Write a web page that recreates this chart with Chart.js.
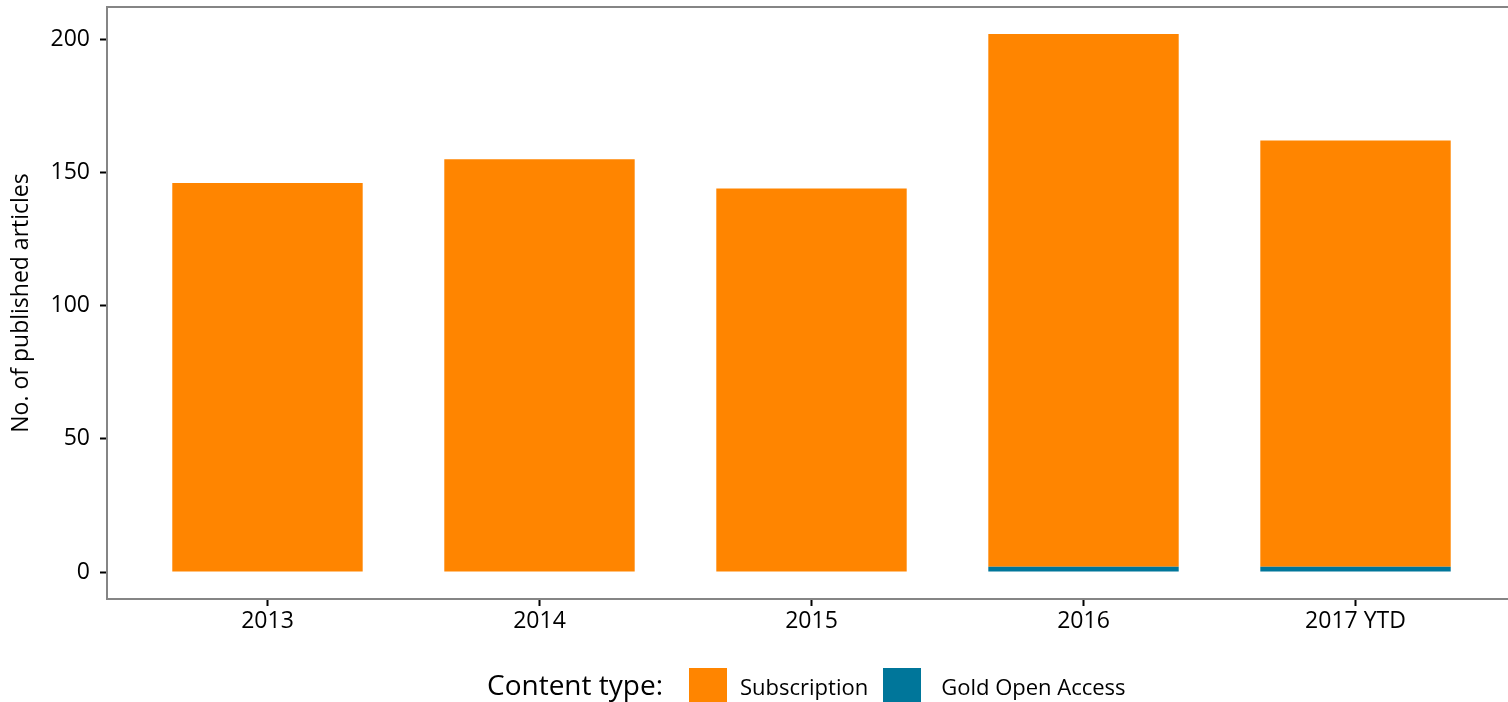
<!DOCTYPE html>
<html>
<head>
<meta charset="utf-8">
<script src="https://cdn.jsdelivr.net/npm/chart.js@4.4.1/dist/chart.umd.min.js"></script>
<style>
    html, body { margin: 0; padding: 0; background: #fff; overflow: hidden; }
    #wrap { position: relative; width: 1520px; height: 702px; }
    #legend {
        position: absolute; left: 487px; top: 662px;
        display: flex; align-items: flex-start;
        font-family: 'Open Sans', sans-serif; color: #000;
    }
    #legend .title { font-size: 28px; line-height: 44px; margin-right: 26px; }
    #legend .box { width: 38px; height: 40px; margin-top: 6px; }
    #legend .label { font-size: 22px; line-height: 44px; margin-top: 2px; }
</style>
</head>
<body>
<div id="wrap">
    <canvas id="chart" width="1520" height="702"></canvas>
    <div id="legend"></div>
</div>
<script>
const categories = ['2013', '2014', '2015', '2016', '2017 YTD'];
const subscription = [146, 155, 144, 200, 160];
const goldOpenAccess = [0, 0, 0, 2, 2];
const yTicks = [0, 50, 100, 150, 200];

const FONT = "'Open Sans', sans-serif";
const AXIS_GREY = '#858585';

// ligne du haut du cadre (pas de bord à droite, coupé)
const topBorder = {
    id: 'topBorder',
    afterDraw(chart) {
        const { ctx, chartArea } = chart;
        ctx.save();
        ctx.strokeStyle = AXIS_GREY;
        ctx.lineWidth = 2;
        ctx.beginPath();
        ctx.moveTo(chartArea.left - 1, chartArea.top);
        ctx.lineTo(chartArea.right + 10, chartArea.top);
        ctx.stroke();
        ctx.restore();
    }
};

const toPoints = values => values.map((v, i) => ({ x: i, y: v }));

const chart = new Chart(document.getElementById('chart'), {
    type: 'bar',
    data: {
        datasets: [
            {
                label: 'Gold Open Access',
                data: toPoints(goldOpenAccess),
                backgroundColor: '#00769A',
                categoryPercentage: 1,
                barPercentage: 0.7
            },
            {
                label: 'Subscription',
                data: toPoints(subscription),
                backgroundColor: '#FF8500',
                categoryPercentage: 1,
                barPercentage: 0.7
            }
        ]
    },
    options: {
        responsive: false,
        animation: false,
        layout: { padding: { top: 7, right: 4, bottom: 63, left: 0 } },
        plugins: {
            legend: { display: false },
            tooltip: { enabled: false }
        },
        scales: {
            x: {
                type: 'linear',
                stacked: true,
                offset: false,
                min: -0.59,
                max: 4.59,
                afterBuildTicks: scale => { scale.ticks = categories.map((c, i) => ({ value: i })); },
                afterFit: scale => {
                    scale.height = 40;
                    scale.paddingLeft = 0;
                    scale.paddingRight = 0;
                },
                grid: { offset: false, drawOnChartArea: false, tickLength: 7, tickColor: '#000', tickWidth: 2 },
                border: { color: AXIS_GREY, width: 2 },
                ticks: {
                    autoSkip: false,
                    maxRotation: 0,
                    padding: 2,
                    color: '#000',
                    font: { family: FONT, size: 23 },
                    callback: v => categories[v] ?? ''
                }
            },
            y: {
                stacked: true,
                min: -10.1,
                max: 212.1,
                afterBuildTicks: scale => { scale.ticks = yTicks.map(v => ({ value: v })); },
                afterFit: scale => {
                    scale.width = 107;
                    scale.paddingTop = 0;
                    scale.paddingBottom = 0;
                },
                grid: { drawOnChartArea: false, tickLength: 7, tickColor: '#000', tickWidth: 2 },
                border: { color: AXIS_GREY, width: 2 },
                ticks: {
                    padding: 10,
                    color: '#000',
                    font: { family: FONT, size: 23 }
                },
                title: {
                    display: true,
                    text: 'No. of published articles',
                    color: '#000',
                    font: { family: FONT, size: 23 },
                    padding: { top: 8, bottom: 0 }
                }
            }
        }
    },
    plugins: [topBorder]
});

// légende en HTML, dans l'ordre de l'original
function renderLegend() {
    const legend = document.getElementById('legend');
    const order = [
        { name: 'Subscription', gap: 13, after: 15 },
        { name: 'Gold Open Access', gap: 20, after: 0 }
    ];
    const items = order.map(item => {
        const ds = chart.data.datasets.find(d => d.label === item.name);
        return `<div class="box" style="background:${ds.backgroundColor}"></div>` +
            `<div class="label" style="margin-left:${item.gap}px;margin-right:${item.after}px">${ds.label}</div>`;
    }).join('');
    legend.innerHTML = `<div class="title">Content type:</div>${items}`;
}

renderLegend();
</script>
</body>
</html>
